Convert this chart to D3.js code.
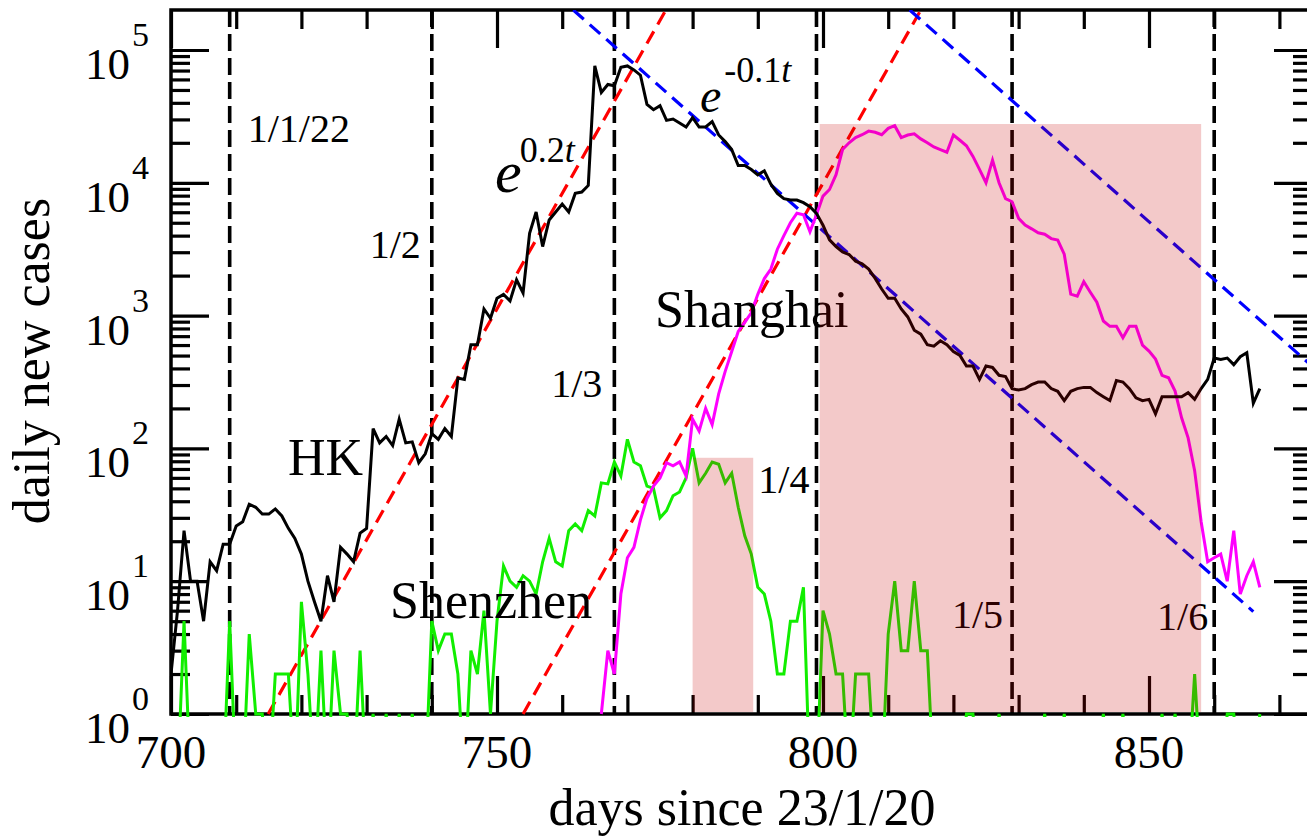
<!DOCTYPE html>
<html>
<head>
<meta charset="utf-8">
<script src="https://cdn.jsdelivr.net/npm/d3@7"></script>
<style>
body { margin: 0; background: #fff; }
text { font-family: 'Liberation Serif', 'Times New Roman', serif; fill: #000; }
</style>
</head>
<body>
<svg width="1307" height="837"></svg>
<script>
// daily new cases, one value per day
var hkFirstDay = 700;
var hkCases = [
    2, 6, 24, 10, 10, 5, 14, 12, 19, 19,
    26, 28, 38, 36, 32, 32, 35, 31, 25, 21,
    16, 10, 7, 5, 11, 7, 18, 16, 14, 23,
    25, 141, 110, 123, 105, 166, 110, 112, 78, 91,
    129, 117, 141, 123, 339, 331, 603, 603, 1122, 955,
    1349, 1445, 1288, 1862, 1479, 4169, 6026, 3311, 5248, 6026,
    6918, 6026, 8318, 8511, 9550, 75858, 47863, 54954, 53703, 74131,
    75858, 70795, 64565, 38905, 35481, 38019, 29512, 30200, 28184, 26303,
    30903, 26303, 26303, 28840, 22909, 20417, 17783, 13490, 13490, 12589,
    11482, 12303, 9772, 8318, 7586, 7413, 7413, 7079, 6607, 5888,
    4786, 3715, 3311, 3020, 2884, 2570, 2455, 2239, 1905, 1585,
    1349, 1349, 1122, 977, 776, 724, 603, 589, 646, 603,
    537, 501, 417, 417, 331, 417, 407, 355, 347, 282,
    275, 282, 302, 316, 316, 282, 269, 229, 269, 282,
    288, 288, 263, 245, 229, 324, 316, 282, 240, 229,
    234, 182, 245, 245, 245, 245, 263, 234, 282, 331,
    479, 468, 479, 427, 490, 525, 219, 282
];

var szFirstDay = 700;
var szCases = [
    0, 0, 5, 0, 0, 0, 0, 0, 0, 5,
    0, 0, 4, 1, 1, 0, 2, 2, 2, 0,
    7, 2, 0, 3, 0, 3, 1, 1, 0, 3,
    0, 1, 0, 1, 0, 1, 0, 1, 0, 0,
    5, 3, 4, 4, 2, 0, 3, 2, 6, 1,
    5, 13, 10, 9, 11, 10, 8, 14, 21, 14,
    13, 24, 27, 24, 34, 31, 55, 54, 79, 62,
    117, 79, 74, 52, 50, 30, 34, 44, 47, 60,
    100, 55, 65, 79, 76, 55, 65, 36, 22, 16,
    9, 8, 5, 2, 2, 5, 5, 9, 0, 0,
    6, 4, 2, 2, 0, 2, 2, 2, 0, 0,
    4, 10, 3, 3, 10, 3, 3, 0, 0, 0,
    0, 0, 1, 1, 0, 0, 0, 1, 0, 0,
    0, 0, 0, 0, 1, 0, 0, 1, 0, 0,
    0, 0, 0, 1, 0, 0, 1, 0, 0, 0,
    0, 0, 1, 0, 1, 0, 0, 2, 0, 0,
    0, 0, 1, 1, 0, 0, 0, 1
];

var shFirstDay = 766;
var shCases = [
    1, 3, 2, 8, 15, 18, 29, 42, 52, 60,
    78, 74, 79, 62, 166, 135, 200, 151, 257, 380,
    537, 760, 890, 1050, 1445, 1900, 2240, 3160, 4000, 5000,
    5900, 5750, 4270, 5750, 7940, 8900, 11500, 17800, 20000, 21900,
    23000, 24500, 24000, 23000, 25700, 26900, 21900, 22900, 23400, 21400,
    20000, 18600, 17800, 17000, 22900, 20900, 19000, 15800, 12600, 10000,
    14800, 10000, 7600, 7200, 5400, 4800, 4500, 4200, 4100, 3800,
    3700, 2900, 1450, 1400, 1800, 1500, 1260, 910, 830, 830,
    680, 830, 830, 600, 540, 470, 355, 340, 270, 170,
    120, 68, 28, 14, 15, 16, 10, 24, 8, 11,
    14, 9
];

// first of each month
var markDays = [709, 740, 768, 799, 829, 860];
var markLabels = ['1/1/22', '1/2', '1/3', '1/4', '1/5', '1/6'];

// lockdown windows
var lockStart = [780, 799.5];
var lockEnd = [789.3, 858];
var lockTop = [85, 27700];

// fitted exponentials, end points
var growthFits = [[[714.9, 1], [775.9, 2e5]], [[754, 1], [815, 2e5]]];
var decayFits = [[[761.7, 2e5], [866, 5.9]], [[813.3, 2e5], [875, 417]]];

var xTicks = [700, 750, 800, 850];
var yTicks = [1, 10, 100, 1000, 10000, 100000];

var scaleX = d3.scaleLinear().domain([700, 875]).range([171, 1312]);
var scaleY = d3.scaleLog().domain([1, 2e5]).range([714, 10]);

var xMinor = d3.range(710, 875, 10).filter(function(d){ return d % 50 != 0; });
var yMinor = [];
for (var k = 0; k < 5; k++) {
    for (var m = 2; m < 10; m++) yMinor.push(m * Math.pow(10, k));
}

function series(first, values) {
    return values.map(function(v, i){ return {day: first + i, n: v}; });
}

var svg = d3.select('svg');

svg.append('clipPath')
    .attr('id', 'plotclip')
    .append('rect')
    .attr('x', 171)
    .attr('y', 10)
    .attr('width', 1141)
    .attr('height', 707);

// ticks, all pointing inwards
function tickStyle(g) {
    g.select('.domain').remove();
    g.selectAll('line').attr('stroke', '#000').attr('stroke-width', 3.2);
}

svg.append('g').attr('transform', 'translate(171,0)')
    .call(d3.axisRight(scaleY).tickValues(yTicks).tickSize(38).tickFormat(''))
    .call(tickStyle);
svg.append('g').attr('transform', 'translate(171,0)')
    .call(d3.axisRight(scaleY).tickValues(yMinor).tickSize(19).tickFormat(''))
    .call(tickStyle);
svg.append('g').attr('transform', 'translate(1312,0)')
    .call(d3.axisLeft(scaleY).tickValues(yTicks).tickSize(38).tickFormat(''))
    .call(tickStyle);
svg.append('g').attr('transform', 'translate(1312,0)')
    .call(d3.axisLeft(scaleY).tickValues(yMinor).tickSize(19).tickFormat(''))
    .call(tickStyle);
svg.append('g').attr('transform', 'translate(0,714)')
    .call(d3.axisTop(scaleX).tickValues(xTicks).tickSize(38).tickFormat(''))
    .call(tickStyle);
svg.append('g').attr('transform', 'translate(0,714)')
    .call(d3.axisTop(scaleX).tickValues(xMinor).tickSize(19).tickFormat(''))
    .call(tickStyle);
svg.append('g').attr('transform', 'translate(0,10)')
    .call(d3.axisBottom(scaleX).tickValues(xTicks).tickSize(38).tickFormat(''))
    .call(tickStyle);
svg.append('g').attr('transform', 'translate(0,10)')
    .call(d3.axisBottom(scaleX).tickValues(xMinor).tickSize(19).tickFormat(''))
    .call(tickStyle);

svg.append('rect')
    .attr('x', 171)
    .attr('y', 10)
    .attr('width', 1141)
    .attr('height', 704)
    .attr('fill', 'none')
    .attr('stroke', '#000')
    .attr('stroke-width', 3.5);

var plot = svg.append('g').attr('clip-path', 'url(#plotclip)');

// month markers
plot.selectAll('.month')
    .data(markDays)
    .enter()
    .append('line')
    .attr('x1', function(d){ return scaleX(d); })
    .attr('x2', function(d){ return scaleX(d); })
    .attr('y1', 10)
    .attr('y2', 714)
    .attr('stroke', '#000')
    .attr('stroke-width', 3.6)
    .attr('stroke-dasharray', '17,7');

var fitLine = d3.line()
    .x(function(d){ return scaleX(d[0]); })
    .y(function(d){ return scaleY(d[1]); });

plot.selectAll('.grow')
    .data(growthFits)
    .enter()
    .append('path')
    .attr('d', fitLine)
    .attr('fill', 'none')
    .attr('stroke', '#ff0000')
    .attr('stroke-width', 3.2)
    .attr('stroke-dasharray', '14,8');

plot.selectAll('.decay')
    .data(decayFits)
    .enter()
    .append('path')
    .attr('d', fitLine)
    .attr('fill', 'none')
    .attr('stroke', '#0000ff')
    .attr('stroke-width', 3.2)
    .attr('stroke-dasharray', '14,8');

var caseLine = d3.line()
    .x(function(d){ return scaleX(d.day); })
    .y(function(d){ return scaleY(Math.max(d.n, 0.3)); });

plot.append('path')
    .datum(series(szFirstDay, szCases))
    .attr('d', caseLine)
    .attr('fill', 'none')
    .attr('stroke', '#11ee00')
    .attr('stroke-width', 3);

plot.append('path')
    .datum(series(shFirstDay, shCases))
    .attr('d', caseLine)
    .attr('fill', 'none')
    .attr('stroke', '#ff00ff')
    .attr('stroke-width', 3);

plot.append('path')
    .datum(series(hkFirstDay, hkCases))
    .attr('d', caseLine)
    .attr('fill', 'none')
    .attr('stroke', '#000')
    .attr('stroke-width', 3);

// tick labels
svg.selectAll('.xlab')
    .data(xTicks)
    .enter()
    .append('text')
    .attr('x', function(d){ return scaleX(d); })
    .attr('y', 768)
    .attr('text-anchor', 'middle')
    .attr('font-size', 47)
    .text(function(d){ return d; });

var ylab = svg.selectAll('.ylab')
    .data(yTicks)
    .enter()
    .append('text')
    .attr('x', 85)
    .attr('y', function(d){ return scaleY(d) + 29; })
    .attr('font-size', 45);
ylab.append('tspan').text('10');
ylab.append('tspan')
    .attr('dx', 2)
    .attr('dy', -33)
    .attr('font-size', 34)
    .text(function(d){ return Math.round(Math.log10(d)); });

svg.append('text')
    .attr('x', 742)
    .attr('y', 825)
    .attr('text-anchor', 'middle')
    .attr('font-size', 52)
    .text('days since 23/1/20');

svg.append('text')
    .attr('transform', 'translate(49,361) rotate(-90)')
    .attr('text-anchor', 'middle')
    .attr('font-size', 52)
    .text('daily new cases');

// month labels next to the markers
var markDx = [18, -11, -12, -7, -9, -6];
var markY = [142, 258, 397, 493, 628, 630];
svg.selectAll('.mlab')
    .data(markDays)
    .enter()
    .append('text')
    .attr('x', function(d, i){ return scaleX(d) + markDx[i]; })
    .attr('y', function(d, i){ return markY[i]; })
    .attr('text-anchor', function(d, i){ return i == 0 ? 'start' : 'end'; })
    .attr('font-size', 40)
    .text(function(d, i){ return markLabels[i]; });

svg.append('text').attr('x', 288).attr('y', 475).attr('font-size', 52).text('HK');
svg.append('text').attr('x', 655).attr('y', 327).attr('font-size', 52).text('Shanghai');
svg.append('text').attr('x', 390).attr('y', 618).attr('font-size', 52).text('Shenzhen');

var g1 = svg.append('text').attr('x', 495).attr('y', 192);
g1.append('tspan').attr('font-size', 60).attr('font-style', 'italic').text('e');
g1.append('tspan').attr('font-size', 36).attr('dy', -30).attr('dx', -2).text('0.2');
g1.append('tspan').attr('font-size', 36).attr('font-style', 'italic').text('t');

var g2 = svg.append('text').attr('x', 700).attr('y', 112);
g2.append('tspan').attr('font-size', 48).attr('font-style', 'italic').text('e');
g2.append('tspan').attr('font-size', 36).attr('dy', -30).attr('dx', 3).text('-0.1');
g2.append('tspan').attr('font-size', 36).attr('font-style', 'italic').text('t');

// lockdown shading laid over everything
svg.selectAll('.lock')
    .data(lockStart)
    .enter()
    .append('rect')
    .attr('x', function(d){ return scaleX(d); })
    .attr('y', function(d, i){ return scaleY(lockTop[i]); })
    .attr('width', function(d, i){ return scaleX(lockEnd[i]) - scaleX(d); })
    .attr('height', function(d, i){ return 712 - scaleY(lockTop[i]); })
    .attr('fill', 'rgb(196,0,0)')
    .attr('fill-opacity', 0.21);
</script>
</body>
</html>
